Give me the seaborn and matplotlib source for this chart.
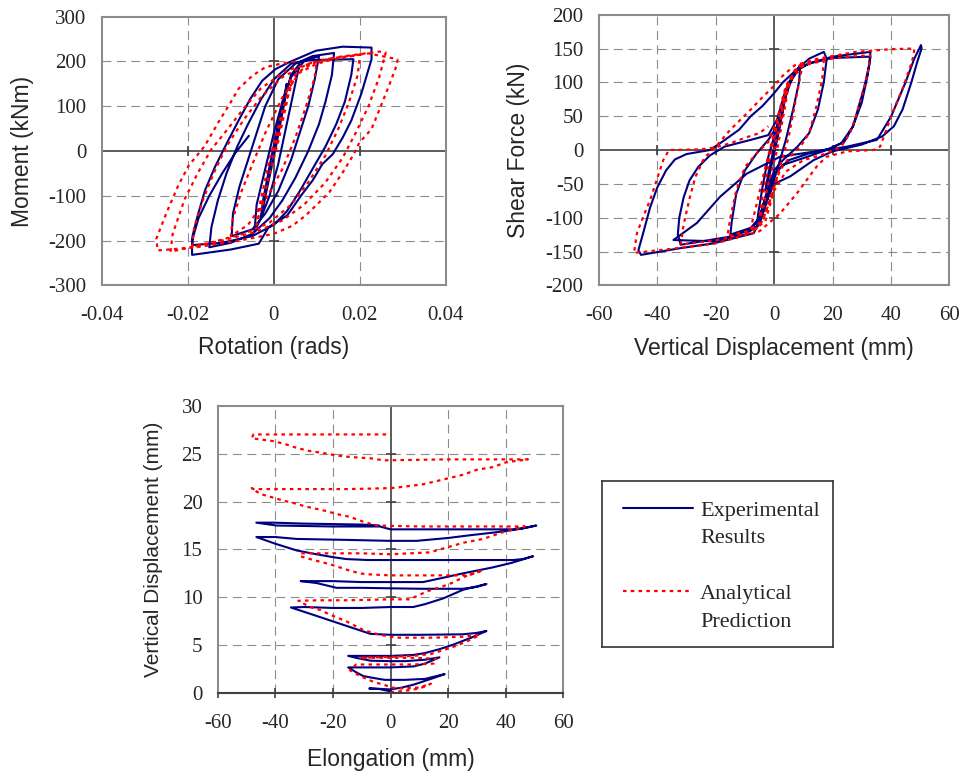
import matplotlib
matplotlib.use("Agg")
import matplotlib.pyplot as plt
from matplotlib.lines import Line2D
import numpy as np
import pandas as pd
import seaborn as sns


# ---- values ----

# panel 1: moment (kNm) against rotation (rads)
rot_exp = [
    (0.000, 0), (0.0015, 80), (0.003, 150), (0.0025, 110), (0.0005, 10), (-0.0015, -80), (-0.003, -150),
    (-0.0025, -110), (-0.0005, -10), (0.0015, 80), (0.004, 170), (0.006, 195), (0.005, 150), (0.003, 60),
    (0.001, -30), (-0.001, -100), (-0.003, -150), (-0.0045, -180), (-0.004, -120), (-0.002, -40), (0.000, 40),
    (0.002, 110), (0.004, 165), (0.007, 200), (0.0105, 212), (0.0095, 160), (0.008, 100), (0.006, 40),
    (0.004, -20), (0.001, -90), (-0.002, -140), (-0.005, -175), (-0.0098, -190), (-0.0095, -140), (-0.008, -80),
    (-0.006, -20), (-0.004, 40), (-0.002, 100), (0.001, 160), (0.005, 195), (0.009, 212), (0.014, 219),
    (0.0135, 170), (0.012, 110), (0.0105, 60), (0.008, 0), (0.005, -60), (0.002, -110), (-0.001, -150),
    (-0.005, -185), (-0.010, -205), (-0.015, -215), (-0.0145, -170), (-0.013, -110), (-0.011, -50),
    (-0.0085, 10), (-0.006, 60), (-0.003, 115), (0.000, 160), (0.004, 195), (0.008, 203), (0.0185, 205),
    (0.018, 170), (0.0165, 110), (0.0145, 60), (0.012, 10), (0.009, -40), (0.006, -90), (0.003, -135),
    (0.000, -165), (-0.005, -190), (-0.012, -205), (-0.0189, -210), (-0.0189, -190), (-0.0176, -141),
    (-0.016, -88), (-0.0137, -36), (-0.011, 16), (-0.0082, 68), (-0.0055, 116), (-0.0027, 157), (0.0004, 183),
    (0.0035, 198), (0.0098, 224), (0.016, 233), (0.0227, 231), (0.0227, 205), (0.0203, 127), (0.018, 68),
    (0.016, 30), (0.0137, -7), (0.0113, -29), (0.009, -66), (0.0066, -96), (0.0031, -144), (-0.0012, -170),
    (-0.0035, -207), (-0.010, -220), (-0.019, -232), (-0.019, -200), (-0.0175, -150), (-0.015, -100),
    (-0.012, -50), (-0.009, -5), (-0.0058, 34),
]
rot_ana = [
    (0.000, 0), (0.002, 80), (0.004, 165), (0.0035, 130), (0.001, 20), (-0.002, -90), (-0.004, -165),
    (-0.0035, -130), (-0.001, -20), (0.002, 90), (0.005, 170), (0.007, 185), (0.010, 200), (0.0095, 165),
    (0.0075, 100), (0.005, 30), (0.002, -40), (-0.002, -110), (-0.006, -165), (-0.010, -190), (-0.0095, -150),
    (-0.0075, -90), (-0.005, -30), (-0.002, 40), (0.002, 120), (0.006, 175), (0.010, 195), (0.014, 205),
    (0.020, 215), (0.0195, 170), (0.0175, 110), (0.015, 50), (0.012, -10), (0.008, -70), (0.004, -120),
    (-0.001, -160), (-0.007, -185), (-0.013, -200), (-0.019, -215), (-0.0185, -170), (-0.0165, -110),
    (-0.014, -50), (-0.011, 10), (-0.007, 70), (-0.003, 120), (0.002, 165), (0.008, 195), (0.015, 210),
    (0.0245, 222), (0.026, 220), (0.0245, 165), (0.022, 100), (0.019, 40), (0.016, -15), (0.012, -70),
    (0.007, -120), (0.002, -155), (-0.004, -180), (-0.012, -200), (-0.018, -212), (-0.024, -225),
    (-0.0235, -185), (-0.0207, -107), (-0.0176, -48), (-0.0145, 4), (-0.0113, 42), (-0.007, 95),
    (-0.003, 140), (0.003, 180), (0.012, 205), (0.022, 218), (0.0287, 205), (0.0287, 195), (0.0266, 142),
    (0.0246, 94), (0.0227, 49), (0.0199, 19), (0.0184, -10), (0.016, -48), (0.0129, -92), (0.0105, -115),
    (0.0074, -144), (0.0043, -167), (0.000, -185), (-0.008, -200), (-0.018, -215), (-0.027, -222),
    (-0.0273, -196), (-0.0249, -137), (-0.0222, -77), (-0.0198, -33), (-0.016, 12), (-0.0129, 64),
    (-0.0105, 101), (-0.0082, 139), (-0.005, 168), (-0.002, 187), (0.0012, 194), (0.005, 200),
]
rot_xticks = [-0.04, -0.02, 0, 0.02, 0.04]
rot_xlabels = ["-0.04", "-0.02", "0", "0.02", "0.04"]
mom_yticks = [-300, -200, -100, 0, 100, 200, 300]

# panel 2: shear force (kN) against vertical displacement (mm)
shear_exp = [
    (0, 0), (1.5, 30), (3, 60), (2, 35), (0, -5), (-1.5, -35), (-3, -60), (-2, -35), (0, 5),
    (2, 40), (4, 80), (6, 105), (9, 125), (8.5, 100), (6.5, 60), (4, 15), (1, -30), (-2, -70), (-4, -95),
    (-6, -115), (-5.5, -95), (-4, -55), (-2, -10), (0, 20), (3, 65), (5, 95), (8, 120), (12, 135), (17, 145),
    (18, 135), (17, 100), (15, 60), (12, 25), (8, 5), (3, -15), (0, -30), (-3, -70), (-5, -100), (-8, -115),
    (-15, -125), (-14.5, -105), (-13, -65), (-10, -30), (-6, -5), (-2, 15), (1, 35), (3, 70), (5, 100),
    (8, 120), (12, 128), (20, 138), (33, 145), (32.5, 125), (31, 95), (29, 65), (27, 35), (24, 12), (19, 2),
    (12, -5), (5, -15), (0, -35), (-3, -70), (-5, -100), (-8, -118), (-15, -128), (-25, -135), (-32, -140),
    (-33, -125), (-32.5, -100), (-31, -70), (-29, -45), (-26, -25), (-22, -8), (-17, 5), (-8, 15), (-2, 22),
    (1, 45), (4, 90), (8, 118), (12, 128), (20, 136), (33, 138), (32, 110), (30, 70), (27, 35), (23, 10),
    (18, 0), (10, -12), (3, -22), (-1, -40), (-3, -80), (-5, -110), (-10, -125), (-20, -135), (-34.5, -133),
    (-26.5, -108), (-18.5, -69), (-9.4, -35), (2, -10), (13.5, -2.5), (25, 5), (35.2, 15), (40, 49),
    (45, 100), (48, 135), (50.3, 155), (50.5, 150), (49, 130), (47, 100), (44, 60), (41, 35), (37, 20),
    (30, 8), (20, -2), (13.5, -15), (5.5, -39), (0, -50), (-2.5, -74), (-4.8, -103), (-7, -123),
    (-20.8, -138), (-32, -145), (-45.6, -155), (-46.5, -148), (-45, -125), (-42.5, -85), (-40, -55),
    (-37, -30), (-34, -14), (-30, -6), (-22, 0), (-18.5, 10), (-12, 30), (-8, 50), (-4, 65), (0, 84),
    (3, 100), (8, 120), (10, 125),
]
shear_ana = [
    (0, 0), (2, 40), (4, 85), (5, 100), (4, 70), (1, 0), (-2, -50), (-4, -90), (-5, -100), (-4, -70),
    (-1, 0), (2, 55), (4, 90), (7, 118), (10, 130), (9, 110), (7, 65), (5, 20), (2, -25), (-1, -70),
    (-4, -105), (-7, -120), (-8, -115), (-6, -80), (-3, -25), (0, 25), (3, 70), (6, 105), (10, 125),
    (17, 132), (16.5, 105), (14.5, 65), (12, 25), (9, 5), (5, -12), (2, -30), (-1, -65), (-4, -105),
    (-9, -120), (-16, -127), (-15, -100), (-13, -60), (-10, -25), (-6, -5), (-2, 12), (1, 45), (4, 95),
    (8, 122), (14, 132), (20, 135), (26, 138), (33, 140), (32, 112), (30, 80), (28, 50), (26, 25), (23, 5),
    (18, -5), (10, -15), (4, -32), (0, -60), (-3, -105), (-8, -122), (-18, -132), (-32, -140), (-31, -110),
    (-29, -72), (-27, -40), (-24, -12), (-20, 5), (-15, 30), (-11.7, 44), (-8.2, 59), (-4, 78), (0, 95),
    (3, 110), (7, 125), (15, 135), (28, 145), (40, 149), (48, 150), (47.8, 140), (46.6, 123), (44.3, 94),
    (40.9, 59), (38, 25), (36.3, 5), (34, 0), (25, -2), (18, -10), (15, -22), (11.2, -44), (7.8, -64),
    (2, -94), (-1, -105), (-5, -120), (-20, -138), (-35, -146), (-48, -152), (-47, -123), (-44.8, -98),
    (-42.5, -74), (-40.2, -44), (-38, -15), (-36, 0), (-30, 0.5), (-25, 1), (-20, 4), (-15, 10),
    (-10, 18), (-5, 25), (-2, 35),
]
disp_xticks = [-60, -40, -20, 0, 20, 40, 60]
shear_yticks = [-200, -150, -100, -50, 0, 50, 100, 150, 200]

# panel 3: vertical displacement (mm) against elongation (mm)
elong_exp = [
    (0, 0.2), (-4, 0.45), (-7.4, 0.5), (-3, 0.45), (0, 0.4), (4, 0.6), (8, 0.9), (12, 1.3), (15, 1.6),
    (18.8, 2.0), (16, 1.8), (12, 1.5), (5, 1.4), (-2, 1.4), (-6, 1.6), (-9.5, 1.8), (-12, 2.2), (-14.7, 2.7),
    (-8, 2.7), (0, 2.7), (8, 2.8), (12, 3.1), (17, 3.75), (12, 3.5), (5, 3.35), (0, 3.35), (-7, 3.4),
    (-12, 3.7), (-14.7, 3.9), (-8, 3.9), (0, 3.9), (8, 4.0), (12, 4.2), (17, 4.6), (22, 5.1), (28, 5.8),
    (33.3, 6.5), (30, 6.3), (25, 6.15), (10, 6.1), (0, 6.1), (-7, 6.2), (-14, 6.9), (-21, 7.6), (-28, 8.3),
    (-34.6, 8.95), (-30, 9.0), (-20, 8.9), (-10, 8.9), (0, 9.0), (7.9, 9.0), (12, 9.3), (18.3, 9.9),
    (25.2, 10.8), (33.3, 11.4), (30, 11.1), (25, 10.9), (11.3, 10.9), (0, 10.95), (-10, 11.0), (-18.7, 11.0),
    (-25.7, 11.5), (-31.2, 11.7), (-20, 11.7), (-10, 11.6), (0, 11.6), (11.3, 11.6), (19, 12.1), (25, 12.5),
    (35, 13.1), (42, 13.6), (49.5, 14.3), (46, 14.0), (42.5, 13.9), (20, 13.9), (0, 13.9), (-8, 13.9),
    (-15.3, 14.0), (-20, 14.2), (-25.7, 14.5), (-32.6, 14.9), (-40, 15.6), (-46.6, 16.3), (-40, 16.3),
    (-32.6, 16.1), (-15, 16.0), (0, 15.9), (9, 15.9), (20, 16.2), (28, 16.5), (36.8, 16.8), (44, 17.1),
    (50.6, 17.5), (46, 17.2), (42.5, 17.1), (20, 17.1), (0, 17.1), (-3.7, 17.4), (-20, 17.4), (-39.6, 17.5),
    (-46.6, 17.8), (-40.8, 17.8), (-30, 17.7), (-10, 17.6), (-4, 17.5),
]
elong_ana = [
    (0, 0.1), (3, 0.2), (6, 0.3), (9, 0.45), (12, 0.7), (14, 1.0), (10, 0.6), (4, 0.5), (0, 0.6),
    (-1.4, 0.8), (-6, 1.2), (-10.6, 1.8), (-14.1, 2.4), (-12, 3.0), (-5, 3.0), (0, 3.0), (8, 3.0), (15, 3.1),
    (16, 3.6), (8, 3.7), (0, 3.7), (-10.6, 3.7), (-5, 3.75), (0, 3.8), (8, 3.9), (14, 4.1), (18.3, 4.5),
    (22.3, 4.9), (26.4, 5.4), (29.8, 5.9), (31, 6.1), (25, 5.9), (15, 5.8), (2, 5.8), (-3.7, 6.1),
    (-9.5, 6.6), (-15.3, 7.5), (-21, 8.2), (-24.5, 8.7), (-28, 9.0), (-32, 9.65), (-25, 9.7), (-15, 9.7),
    (0, 9.8), (6.7, 9.8), (10.2, 10.3), (14.2, 10.8), (17.7, 11.1), (21.2, 11.5), (26, 12.2), (32.1, 12.85),
    (28, 12.4), (24, 12.3), (10, 12.3), (0, 12.3), (-7.2, 12.4), (-10.6, 12.5), (-15.3, 12.9),
    (-19.3, 13.3), (-22.8, 13.6), (-26.8, 13.9), (-31.4, 14.3), (-31, 14.6), (-20, 14.6), (-10, 14.6),
    (0, 14.5), (13.6, 14.7), (20.6, 15.3), (25.2, 15.7), (32.1, 16.1), (39, 16.8), (46.6, 17.4), (30, 17.4),
    (10, 17.4), (-4.9, 17.5), (-9.5, 17.9), (-14.1, 18.4), (-18.7, 18.7), (-22.2, 19.0), (-29.7, 19.5),
    (-33.1, 19.8), (-37.2, 20.1), (-41.8, 20.5), (-45.3, 20.8), (-48.2, 21.4), (-47.6, 21.3), (-30, 21.3),
    (-15, 21.3), (0, 21.4), (3.2, 21.5), (11.3, 21.8), (18.3, 22.3), (25.2, 22.8), (29.8, 23.3),
    (35.6, 23.6), (40.2, 24.1), (47.7, 24.4), (40, 24.4), (20, 24.4), (-2.5, 24.3), (-6.6, 24.5),
    (-14.1, 24.65), (-18.7, 24.8), (-22.2, 25.0), (-28.6, 25.3), (-32.6, 25.6), (-36.6, 26.0),
    (-40.7, 26.3), (-48.2, 26.6), (-47.6, 27.0), (-30, 27.0), (-15, 27.0), (0, 27.0),
]
vdisp_yticks = [0, 5, 10, 15, 20, 25, 30]

legend_labels = ["Experimental", "Results", "", "Analytical", "Prediction"]

BLUE = "#000080"
RED = "#ff0000"
GRID = "#8c8c8c"
FRAME = "#8c8c8c"
ZERO = "#404040"
RED_DOTS = (0, (1.6, 1.9))


def frame(pairs):
    return pd.DataFrame(pairs, columns=["x", "y"])


def draw_curves(ax, exp, ana):
    sns.lineplot(data=frame(exp), x="x", y="y", sort=False, estimator=None,
                 color=BLUE, linewidth=1.5, ax=ax, label="exp")
    sns.lineplot(data=frame(ana), x="x", y="y", sort=False, estimator=None,
                 color=RED, linewidth=1.6, linestyle=RED_DOTS, ax=ax, label="ana")
    ax.get_legend().remove()


def style_axes(ax, xticks, xlabels, yticks, xlabel, ylabel, ylabel_x,
               bottom_axis=False, ylabel_size=16.5):
    ax.set_xlim(xticks[0], xticks[-1])
    ax.set_ylim(yticks[0], yticks[-1])
    ax.set_xticks(xticks, xlabels)
    ax.set_yticks(yticks, [str(t) for t in yticks])
    ax.tick_params(length=0, labelsize=15)
    ax.tick_params(axis="x", pad=15)
    ax.tick_params(axis="y", pad=11)
    # dashed gridlines behind the curves
    for t in xticks[1:-1]:
        if t != 0:
            ax.axvline(t, color=GRID, lw=0.8, ls=(0, (8, 5)), zorder=0.5)
    for t in yticks[1:-1]:
        if t != 0:
            ax.axhline(t, color=GRID, lw=0.8, ls=(0, (8, 5)), zorder=0.5)
    # axis lines through zero with small cross ticks
    ax.axvline(0, color=ZERO, lw=1.2, zorder=1)
    ax.plot(np.zeros(len(yticks)), yticks, ls="none", marker="_", ms=7, mew=1.2,
            color=ZERO, clip_on=False, zorder=1)
    ax.axhline(0, color=ZERO, lw=1.2, zorder=1)
    ax.plot(xticks, np.zeros(len(xticks)), ls="none", marker="|", ms=7, mew=1.2,
            color=ZERO, clip_on=False, zorder=1)
    for sp in ax.spines.values():
        sp.set_visible(True)
        sp.set_color(FRAME)
        sp.set_linewidth(1.5)
    if bottom_axis:
        ax.spines["bottom"].set_color(ZERO)
    ax.set_xlabel(xlabel, fontsize=16.5, fontfamily="Liberation Sans")
    ax.set_ylabel(ylabel, fontsize=ylabel_size, fontfamily="Liberation Sans")
    ax.xaxis.set_label_coords(0.5, -0.19)
    ax.yaxis.set_label_coords(ylabel_x, 0.5)


def main():
    sns.set_style("white")
    plt.rcParams["font.family"] = ["Liberation Serif", "DejaVu Serif"]

    fig = plt.figure(figsize=(9.63, 7.76), dpi=100)

    ax1 = fig.add_axes([0.1056, 0.6323, 0.3575, 0.3462])
    draw_curves(ax1, rot_exp, rot_ana)
    style_axes(ax1, rot_xticks, rot_xlabels, mom_yticks,
               "Rotation (rads)", "Moment (kNm)", -0.197)

    ax2 = fig.add_axes([0.6220, 0.6323, 0.3638, 0.3488])
    draw_curves(ax2, shear_exp, shear_ana)
    style_axes(ax2, disp_xticks, [str(t) for t in disp_xticks], shear_yticks,
               "Vertical Displacement (mm)", "Shear Force (kN)", -0.197)

    ax3 = fig.add_axes([0.2261, 0.1066, 0.3589, 0.3706])
    draw_curves(ax3, elong_exp, elong_ana)
    style_axes(ax3, disp_xticks, [str(t) for t in disp_xticks], vdisp_yticks,
               "Elongation (mm)", "Vertical Displacement (mm)", -0.158,
               bottom_axis=True, ylabel_size=15)

    # legend in its own framed box
    lax = fig.add_axes([601.7 / 963, 1 - 646.7 / 776, 231 / 963, 166 / 776])
    lax.set_xticks([])
    lax.set_yticks([])
    for sp in lax.spines.values():
        sp.set_color("#333333")
        sp.set_linewidth(1.2)
    blank = Line2D([], [], ls="none")
    handles = [ax1.get_lines()[0], blank, blank, ax1.get_lines()[1], blank]
    lax.legend(handles, legend_labels, loc="upper left",
               bbox_to_anchor=(623 / 963, (776 - 500) / 776), bbox_transform=fig.transFigure,
               frameon=False, fontsize=16, handlelength=3.15, handletextpad=0.32,
               labelspacing=0.33, borderpad=0, borderaxespad=0)

    fig.savefig("out.png", dpi=100)


if __name__ == "__main__":
    main()
